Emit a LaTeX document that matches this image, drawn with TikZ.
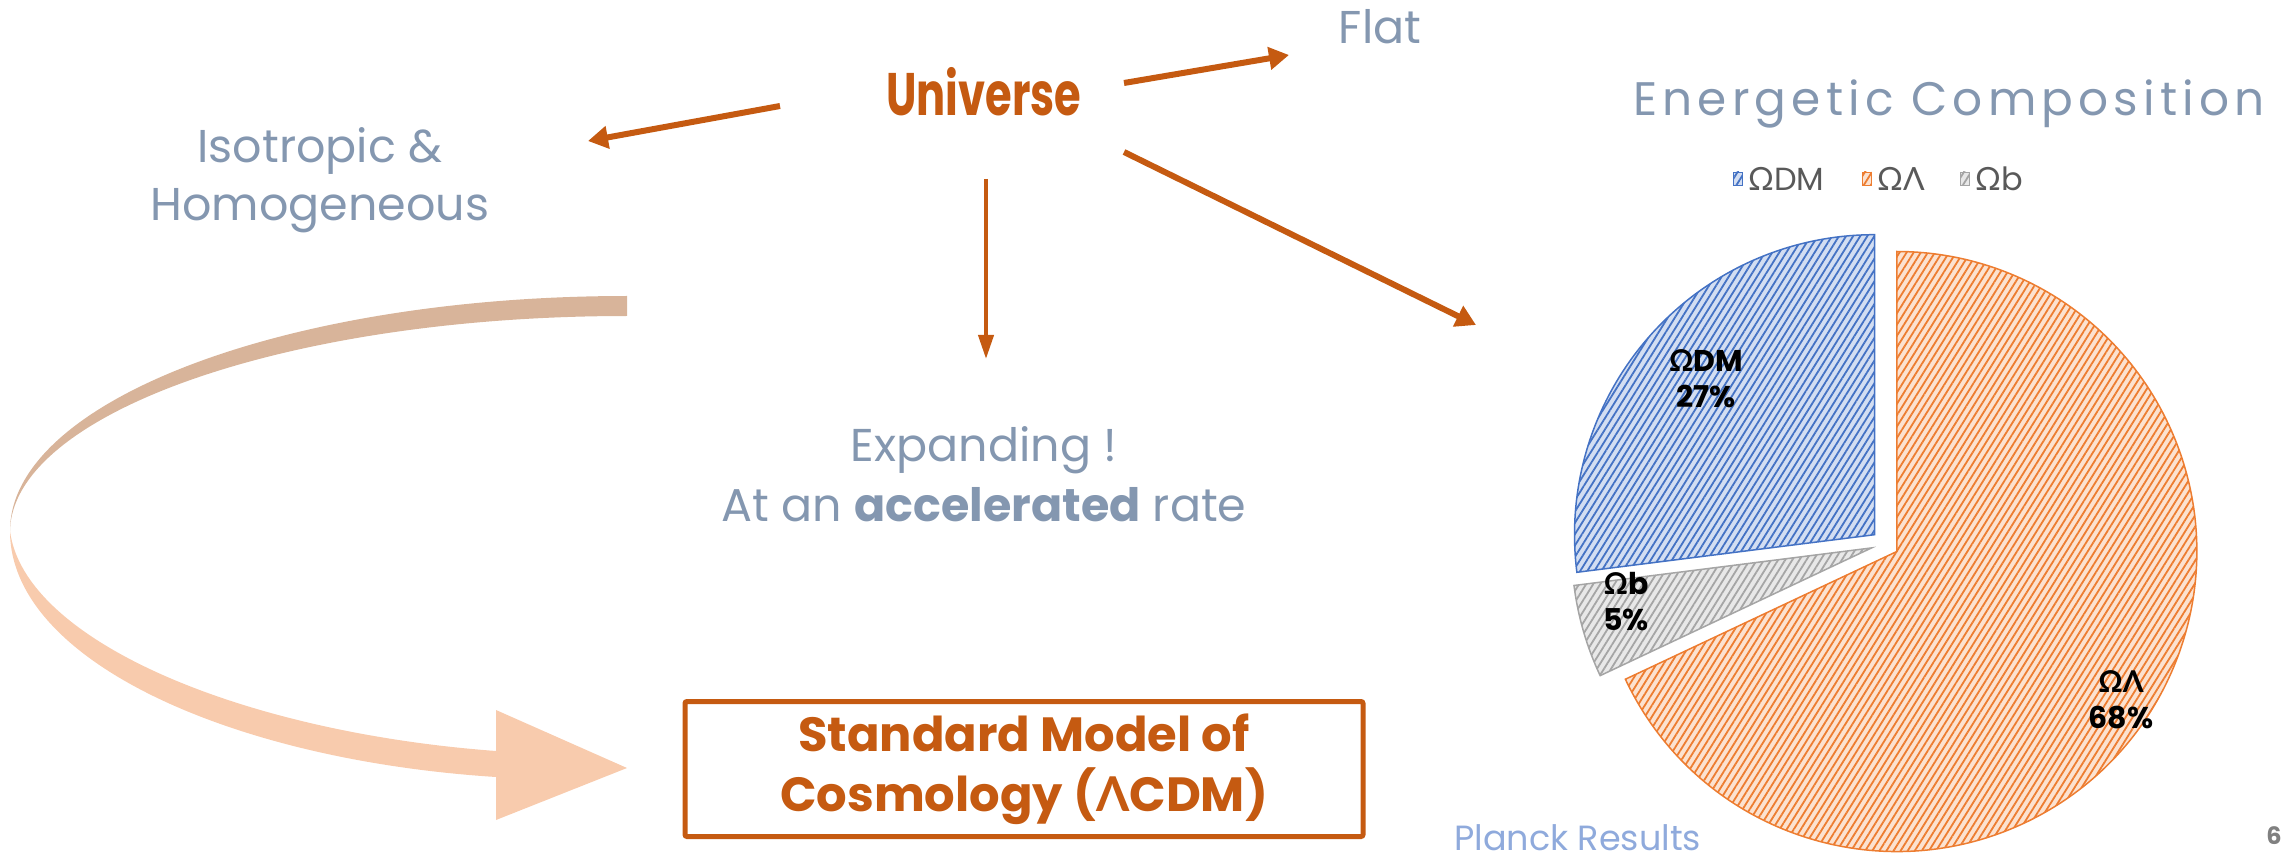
\documentclass[tikz,border=0pt]{standalone}
\usepackage{fontspec}
\setmainfont{Poppins}
\newfontfamily\grk{Lato}
\usetikzlibrary{arrows.meta,patterns.meta}
\definecolor{brn}{HTML}{C55A11}
\definecolor{gblue}{HTML}{8497B0}
\definecolor{lblue}{HTML}{8FAADC}
\definecolor{ribtop}{HTML}{D8B49A}
\definecolor{ribbot}{HTML}{F8CBAD}
\definecolor{dmc}{HTML}{4472C4}
\definecolor{dmbg}{HTML}{D3DEF2}
\definecolor{lamc}{HTML}{ED7D31}
\definecolor{lambg}{HTML}{FCE2D0}
\definecolor{bc}{HTML}{A5A5A5}
\definecolor{bbg}{HTML}{E8E8E8}
\definecolor{leggray}{HTML}{595959}
\newcommand\gOm{{\grk Ω}}
\newcommand\gLam{{\grk Λ}}
\tikzset{
  txt/.style={text=gblue, inner sep=0pt, align=center, font=\fontsize{46}{60}\selectfont},
  conn/.style={draw=brn, line width=6pt, -{Triangle[length=20pt,width=22pt]}},
  slice/.style 2 args={draw=#1, line width=1.5pt, fill=#2,
     postaction={pattern={Lines[angle=58,distance=6pt,line width=1.8pt]}, pattern color=#1}},
  plab/.style={inner sep=0pt, align=center, font=\fontsize{30}{36}\selectfont\bfseries},
  leg/.style={inner sep=0pt, anchor=west, text=leggray, font=\fontsize{32}{36}\selectfont},
}
\begin{document}
\begin{tikzpicture}[x=1pt,y=-1pt]
\useasboundingbox (0,0) rectangle (2286,858);

% texts
\node[txt, font=\fontsize{60}{70}\selectfont\bfseries, text=brn, xscale=0.72] (uni) at (984,92) {Universe};
\node[txt] (flat) at (1380,27) {Flat};
\node[txt, font=\fontsize{46}{58}\selectfont] (iso) at (320,180) {Isotropic \&\\Homogeneous};
\node[txt] (exp) at (984,474) {Expanding !\\At an \textbf{accelerated} rate};
\node[txt, font=\fontsize{47}{56}\selectfont\addfontfeature{LetterSpace=11}] (ec) at (1949,104) {Energetic Composition};
\node[txt, text=lblue, font=\fontsize{35}{42}\selectfont, anchor=base west] (planck) at (1454,850) {Planck Results};
\node[inner sep=0pt, text=gray, font=\fontsize{24}{28}\selectfont\bfseries] (pg) at (2274,836) {6};

% box
\node[draw=brn, line width=5pt, rounded corners=2pt, minimum width=678pt, minimum height=135pt,
      text=brn, align=center, font=\fontsize{48}{60}\selectfont\bfseries] (smc) at (1024,769)
      {Standard Model of\\Cosmology (\gLam CDM)};

% arrows from Universe
\coordinate (uL) at (780,106);
\coordinate (isoT) at (588,141);
\coordinate (uR) at (1124,83);
\coordinate (flatT) at (1289,55);
\coordinate (uD) at (986,179);
\coordinate (expT) at (986,359);
\coordinate (uP) at (1124,152);
\coordinate (pieT) at (1476,325);
\draw[conn] (uL) -- (isoT);
\draw[conn] (uR) -- (flatT);
\draw[conn, line width=4pt, -{Triangle[length=24pt,width=15pt]}] (uD) -- (expT);
\draw[conn] (uP) -- (pieT);

% curved ribbon arrow
\fill[ribtop] (627,296) .. controls (286,296) and (10,401) .. (10,531)
   .. controls (12,414) and (286,316) .. (627,316) -- cycle;
\fill[ribbot] (10,531) .. controls (10,660) and (230,760) .. (496,777) -- (496,751)
   .. controls (240,732) and (24,640) .. (10,531) -- cycle;
\fill[ribbot] (496,710) -- (627,768) -- (496,820) -- cycle;

% legend
\path[slice={dmc}{dmbg}, line width=0.8pt] (1733,172) rectangle (1742,185);
\node[leg] (l1) at (1748,179) {\gOm DM};
\path[slice={lamc}{lambg}, line width=0.8pt] (1862,172) rectangle (1871,185);
\node[leg] (l2) at (1877,179) {\gOm\gLam};
\path[slice={bc}{bbg}, line width=0.8pt] (1960,172) rectangle (1969,185);
\node[leg] (l3) at (1975,179) {\gOm b};

% pie
\begin{scope}[shift={(1885,544)}, yscale=-1]
  \path[slice={dmc}{dmbg}] (-10.5,9.3) -- ++(90:300) arc[start angle=90, end angle=187.2, radius=300] -- cycle;
  \path[slice={bc}{bbg}] (-13.4,-3.9) -- ++(187.2:300) arc[start angle=187.2, end angle=205.2, radius=300] -- cycle;
  \path[slice={lamc}{lambg}] (11.8,-7.5) -- ++(205.2:300) arc[start angle=205.2, end angle=450, radius=300] -- cycle;
\end{scope}
\node[plab] (pdm) at (1706,379) {\gOm DM\\27\%};
\node[plab] (pb) at (1626,602) {\gOm b\\5\%};
\node[plab] (pl) at (2121,700) {\gOm\gLam\\68\%};
\end{tikzpicture}
\end{document}
